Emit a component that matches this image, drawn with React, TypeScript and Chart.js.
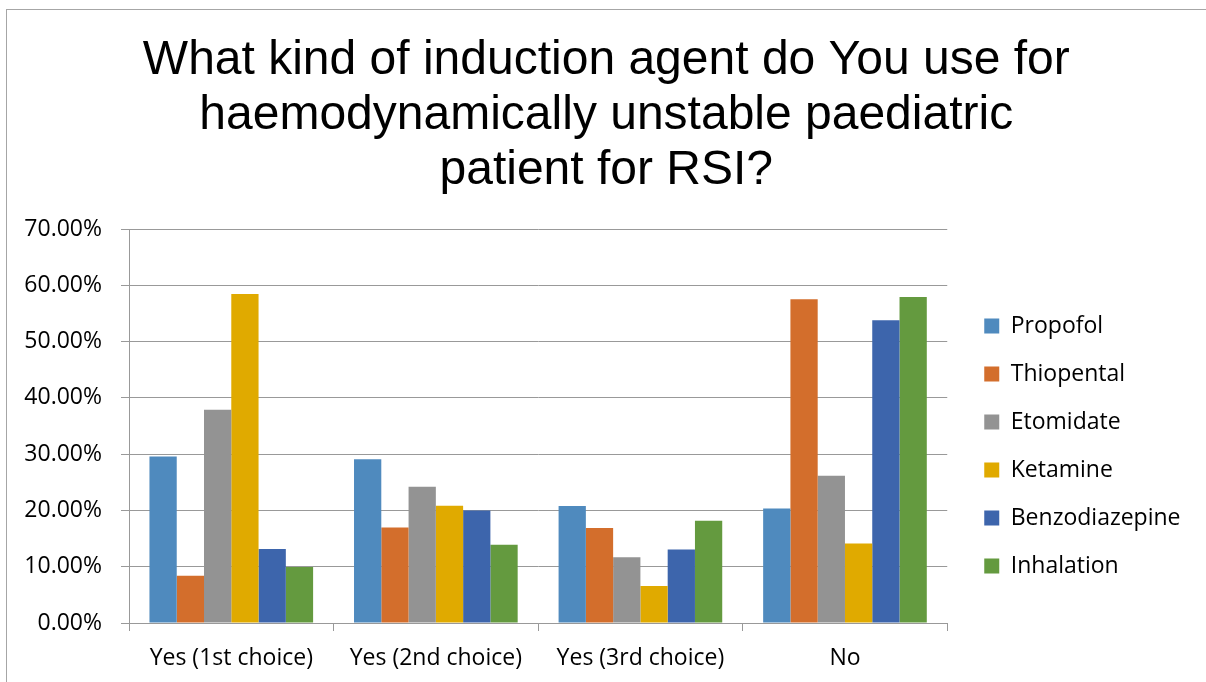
import React, { useEffect, useRef } from "react";
import { Chart, registerables } from "chart.js";

Chart.register(...registerables);

const categories = ["Yes (1st choice)", "Yes (2nd choice)", "Yes (3rd choice)", "No"];
const propofol = [29.59, 29.11, 20.77, 20.36];
const thiopental = [8.4, 16.98, 16.86, 57.51];
const etomidate = [37.87, 24.2, 11.66, 26.15];
const ketamine = [58.46, 20.83, 6.57, 14.14];
const benzodiazepine = [13.14, 20.0, 13.08, 53.79];
const inhalation = [9.94, 13.9, 18.17, 57.93];
const seriesNames = ["Propofol", "Thiopental", "Etomidate", "Ketamine", "Benzodiazepine", "Inhalation"];
const seriesColors = ["#4F8ABE", "#D36E2C", "#939393", "#E0AA00", "#3D65AC", "#649A3F"];
const titleLines = [
  "What kind of induction agent do You use for",
  "haemodynamically unstable paediatric",
  "patient for RSI?",
];
const yMin = 0;
const yMax = 70;
const yStep = 10;

export default function App() {
  const canvasRef = useRef<HTMLCanvasElement | null>(null);

  useEffect(() => {
    const canvas = canvasRef.current;
    if (!canvas) return;
    let chart: Chart | null = null;
    let cancelled = false;
    const seriesValues = [propofol, thiopental, etomidate, ketamine, benzodiazepine, inhalation];
    const font = "'Open Sans', sans-serif";

    const build = () => {
      if (cancelled) return;
      chart = new Chart(canvas, {
        type: "bar",
        data: {
          labels: categories,
          datasets: seriesNames.map((name, i) => ({
            label: name,
            data: seriesValues[i],
            backgroundColor: seriesColors[i],
            borderWidth: 0,
            categoryPercentage: 0.8,
            barPercentage: 1.0,
          })),
        },
        options: {
          animation: false,
          responsive: false,
          devicePixelRatio: 1,
          layout: { padding: { left: 22, right: 15.5, top: 0, bottom: 0 } },
          plugins: {
            title: {
              display: true,
              text: titleLines,
              color: "#000",
              font: { family: "'Liberation Sans', Arial, sans-serif", size: 48, weight: "normal", lineHeight: 55 / 48 },
              padding: { top: 33, bottom: 31 },
            },
            legend: {
              display: true,
              position: "right",
              align: "center",
              fullSize: false,
              maxWidth: 300,
              title: {
                display: true,
                text: "",
                font: { size: 10, lineHeight: 1.2 },
                padding: { top: 14, bottom: 14 },
              },
              labels: {
                color: "#000",
                font: { family: font, size: 23 },
                boxWidth: 15,
                boxHeight: 15,
                padding: 25,
              },
            },
            tooltip: { enabled: false },
          },
          scales: {
            x: {
              grid: { display: true, drawOnChartArea: false, drawTicks: true, tickLength: 8, offset: true, color: "#999" },
              border: { display: true, color: "#999" },
              ticks: { color: "#000", font: { family: font, size: 23 }, padding: 14, maxRotation: 0 },
              afterFit: (s: any) => {
                s.height = 59;
              },
            },
            y: {
              min: yMin,
              max: yMax,
              grid: { color: "#999", tickLength: 8, drawTicks: true },
              border: { display: true, color: "#999" },
              ticks: {
                stepSize: yStep,
                color: "#000",
                font: { family: font, size: 23 },
                padding: 19,
                callback: (v: any) => Number(v).toFixed(2) + "%",
              },
              afterFit: (s: any) => {
                s.width = 107;
              },
            },
            y2: {
              position: "right",
              display: true,
              grid: { display: false, drawTicks: false },
              border: { display: false },
              ticks: { display: false },
              afterFit: (s: any) => {
                s.width = 12;
              },
            },
          },
        },
      });
    };

    const fontsApi = (document as any).fonts;
    if (fontsApi && fontsApi.load) {
      Promise.all([
        fontsApi.load("23px 'Open Sans'"),
        fontsApi.load("48px 'Liberation Sans'"),
      ])
        .catch(() => undefined)
        .then(() => build());
    } else {
      build();
    }

    return () => {
      cancelled = true;
      if (chart) chart.destroy();
    };
  }, []);

  return (
    <div style={{ position: "fixed", left: 0, top: 0, width: 1206, height: 682, background: "#fff", overflow: "hidden" }}>
      <canvas ref={canvasRef} width={1206} height={682} style={{ display: "block", width: 1206, height: 682 }} />
      <div
        style={{
          position: "absolute",
          left: 6,
          top: 9,
          right: -5,
          bottom: -5,
          borderLeft: "1px solid #a6a6a6",
          borderTop: "1px solid #a6a6a6",
          pointerEvents: "none",
        }}
      />
    </div>
  );
}
